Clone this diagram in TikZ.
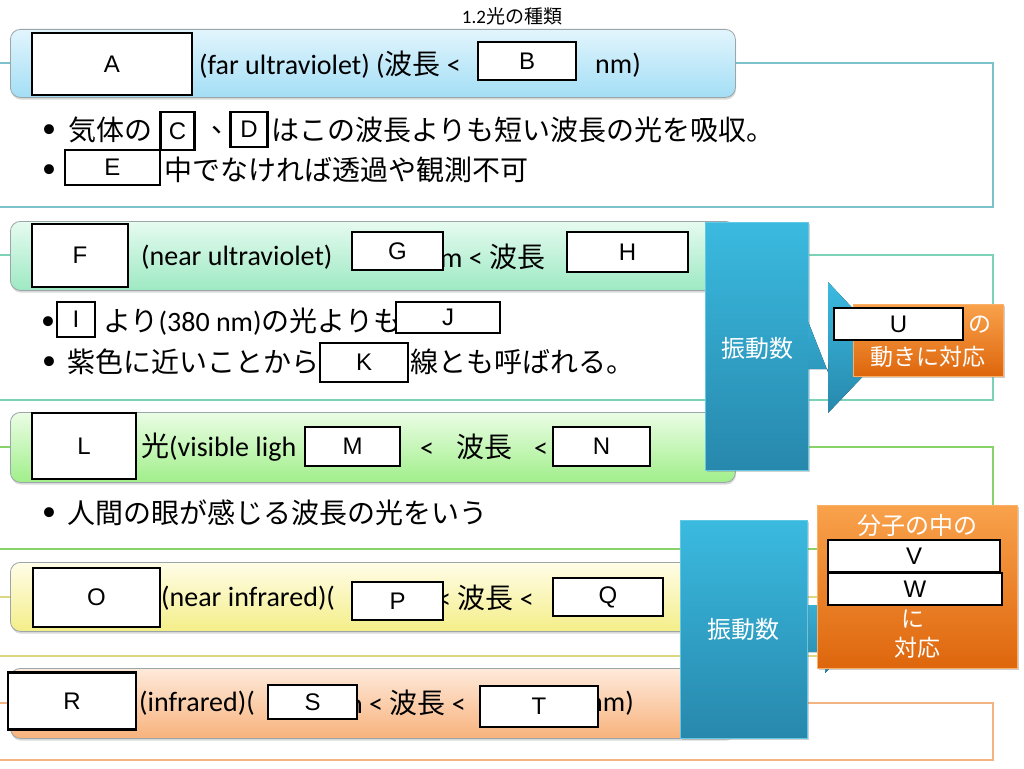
\documentclass[tikz,border=0pt]{standalone}
\usepackage{fontspec}
\setmainfont{Carlito}
\newfontfamily\jp{Noto Sans CJK JP}
\newfontfamily\arialf{Liberation Sans}
\usetikzlibrary{shadows}
\definecolor{hAt}{HTML}{E2F5FD}\definecolor{hAb}{HTML}{A3DEF5}
\definecolor{hBt}{HTML}{E6FBF0}\definecolor{hBb}{HTML}{9DE9C3}
\definecolor{hCt}{HTML}{EBFDE5}\definecolor{hCb}{HTML}{A0EF8A}
\definecolor{hDt}{HTML}{FFFDE8}\definecolor{hDb}{HTML}{F4EE88}
\definecolor{hEt}{HTML}{FEEADB}\definecolor{hEb}{HTML}{F8B27C}
\definecolor{cA}{HTML}{7CC2CC}\definecolor{cB}{HTML}{7CD2B6}
\definecolor{cC}{HTML}{88D26A}\definecolor{cD}{HTML}{DDD880}
\definecolor{cE}{HTML}{F2B482}
\definecolor{hline}{HTML}{9AA6A8}
\definecolor{blt}{HTML}{3BBAE0}\definecolor{blb}{HTML}{2788AC}
\definecolor{ort}{HTML}{F9A24C}\definecolor{orb}{HTML}{DE660C}
\begin{document}
\begin{tikzpicture}[x=1pt,y=-1pt,
  hdr/.style={draw=hline, line width=0.8pt, rounded corners=10pt, inner sep=0,
    anchor=north west, drop shadow={opacity=0.3, shadow xshift=0.6pt, shadow yshift=-2.2pt}},
  crect/.style={line width=1.2pt},
  ht/.style={anchor=west, inner sep=0, font=\fontsize{28}{30}\selectfont},
  jt/.style={anchor=west, inner sep=0, font=\jp\fontsize{28}{30}\selectfont},
  bul/.style={inner sep=0, font=\fontsize{28}{30}\selectfont},
  lb/.style={draw=black, line width=2.1pt, fill=white, inner sep=0,
    font=\arialf\fontsize{24}{24}\selectfont},
  bluebox/.style={inner sep=0, top color=blt, bottom color=blb, draw=blt!80!white, line width=0.5pt,
    text=white, font=\jp\fontsize{24}{26}\selectfont,
    drop shadow={opacity=0.35, shadow xshift=1.5pt, shadow yshift=-1.5pt}},
  orbox/.style={inner sep=0, top color=ort, bottom color=orb, draw=ort!85!white, line width=0.5pt,
    drop shadow={opacity=0.4, shadow xshift=1.5pt, shadow yshift=-1.5pt}},
  wt/.style={inner sep=0, text=white, font=\jp\fontsize{23}{25}\selectfont},
  arr/.style={top color=blt, bottom color=blb}
]
\path[use as bounding box, fill=white] (0,0) rectangle (1024,768);

% title
\node[inner sep=0, font=\fontsize{19}{21}\selectfont] (title) at (512,16) {1.2{\jp 光の種類}};

% content rectangles
\draw[crect, draw=cA] (-5,63) rectangle (993,207);
\draw[crect, draw=cB] (-5,255) rectangle (993,400);
\draw[crect, draw=cC] (-5,447) rectangle (993,549);
\draw[crect, draw=cD] (-5,597) rectangle (993,656);
\draw[crect, draw=cE] (-5,703) rectangle (993,760);

% ===== Section 1
\node[hdr, top color=hAt, bottom color=hAb, minimum width=725, minimum height=68] (h1) at (10,29) {};
\node[ht] (t1a) at (199,65) {(far ultraviolet) ({\jp 波長} <};
\node[ht] (t1b) at (595,65) {nm)};
\node[lb, minimum width=160, minimum height=62] (A) at (112,64) {A};
\node[lb, minimum width=98, minimum height=38] (B) at (527,61) {B};
\node[bul] (b1a) at (49,131) {•};
\node[jt] (t1c) at (68,130) {気体の};
\node[lb, minimum width=34, minimum height=38] (C) at (177.5,131) {C};
\node[jt] (t1d) at (211,130) {、};
\node[lb, minimum width=37, minimum height=35] (D) at (249,129.5) {D};
\node[jt] (t1e) at (271,130) {はこの波長よりも短い波長の光を吸収。};
\node[bul] (b1b) at (49,171) {•};
\node[lb, minimum width=95, minimum height=35] (E) at (112.5,167.5) {E};
\node[jt] (t1f) at (164,170) {中でなければ透過や観測不可};

% ===== Section 2
\node[hdr, top color=hBt, bottom color=hBb, minimum width=725, minimum height=69] (h2) at (10,221) {};
\node[ht] (t2a) at (141,257) {(near ultraviolet)};
\node[ht] (t2b) at (440,257) {m < {\jp 波長}};
\node[lb, minimum width=96, minimum height=63] (F) at (80,255.5) {F};
\node[lb, minimum width=91, minimum height=38] (G) at (397.5,251) {G};
\node[lb, minimum width=121, minimum height=40] (H) at (627.5,252) {H};
\node[bul] (b2a) at (48,323) {•};
\node[lb, minimum width=38, minimum height=35] (I) at (76,319.5) {I};
\node[ht] (t2c) at (103,322) {{\jp より}(380 nm){\jp の光よりも}};
\node[lb, minimum width=104, minimum height=31] (J) at (448,317.5) {J};
\node[bul] (b2b) at (49,363) {•};
\node[jt] (t2d) at (67,362) {紫色に近いことから};
\node[lb, minimum width=88, minimum height=39] (K) at (364,362.5) {K};
\node[jt] (t2e) at (410,362) {線とも呼ばれる。};

% ===== Section 3
\node[hdr, top color=hCt, bottom color=hCb, minimum width=725, minimum height=70] (h3) at (10,412) {};
\node[ht] (t3a) at (141,447) {{\jp 光}(visible ligh};
\node[ht] (t3b) at (420,447) {<\hspace{22pt}{\jp 波長}\hspace{22pt}<};
\node[lb, minimum width=104, minimum height=66] (L) at (84,446) {L};
\node[lb, minimum width=95, minimum height=39] (M) at (352.5,446.5) {M};
\node[lb, minimum width=97, minimum height=39] (N) at (601.5,446.5) {N};
\node[bul] (b3a) at (49,514) {•};
\node[jt] (t3c) at (67,513) {人間の眼が感じる波長の光をいう};

% ===== Section 4
\node[hdr, top color=hDt, bottom color=hDb, minimum width=725, minimum height=69] (h4) at (10,562) {};
\node[ht] (t4a) at (161,598) {(near infrared)(};
\node[ht] (t4b) at (437,598) {< {\jp 波長} <};
\node[lb, minimum width=127, minimum height=59] (O) at (96.5,597.5) {O};
\node[lb, minimum width=91, minimum height=38] (P) at (397.5,601) {P};
\node[lb, minimum width=110, minimum height=38] (Q) at (608,597) {Q};

% ===== Section 5
\node[hdr, top color=hEt, bottom color=hEb, minimum width=725, minimum height=70] (h5) at (10,668) {};
\node[ht] (t5a) at (139,703) {(infrared)(};
\node[ht] (t5b) at (348,703) {n < {\jp 波長} <};
\node[ht] (t5c) at (588,703) {nm)};
\node[lb, minimum width=128, minimum height=57] (R) at (72,701) {R};
\node[lb, minimum width=89, minimum height=34] (S) at (312.5,702) {S};
\node[lb, minimum width=118, minimum height=41] (T) at (539,706.5) {T};

% ===== right: upper vibration
\node[bluebox, minimum width=103, minimum height=248] (vib1) at (756.5,346) {};
\fill[arr] ([yshift=-23pt]vib1.east) -- ++(20,0) -- (828,282) -- (890,348) -- (828,413) -- (828,372) -- ([yshift=24pt]vib1.east) -- cycle;
\node[inner sep=0, text=white, font=\jp\fontsize{24}{26}\selectfont] (vib1t) at (757,348) {振動数};
\node[orbox, minimum width=150, minimum height=72] (or1) at (928,340) {};
\node[lb, minimum width=129, minimum height=32] (U) at (898.5,324) {U};
\node[wt] (or1a) at (980,325) {の};
\node[wt] (or1b) at (928,357) {動きに対応};

% ===== right: lower vibration
\fill[arr] (805,605) -- (825,605) -- (825,585) -- (870,629) -- (825,673) -- (825,652) -- (805,652) -- cycle;
\node[bluebox, minimum width=127, minimum height=218] (vib2) at (743.5,629) {振動数};
\node[orbox, minimum width=200, minimum height=163] (or2) at (917,586.5) {};
\node[wt, font=\jp\fontsize{24}{26}\selectfont] (or2a) at (917,525) {分子の中の};
\node[lb, minimum width=172, minimum height=32] (V) at (914,556) {V};
\node[lb, minimum width=174, minimum height=32] (W) at (915,589) {W};
\node[wt] (or2b) at (913,619) {に};
\node[wt] (or2c) at (917,648) {対応};
\end{tikzpicture}
\end{document}
